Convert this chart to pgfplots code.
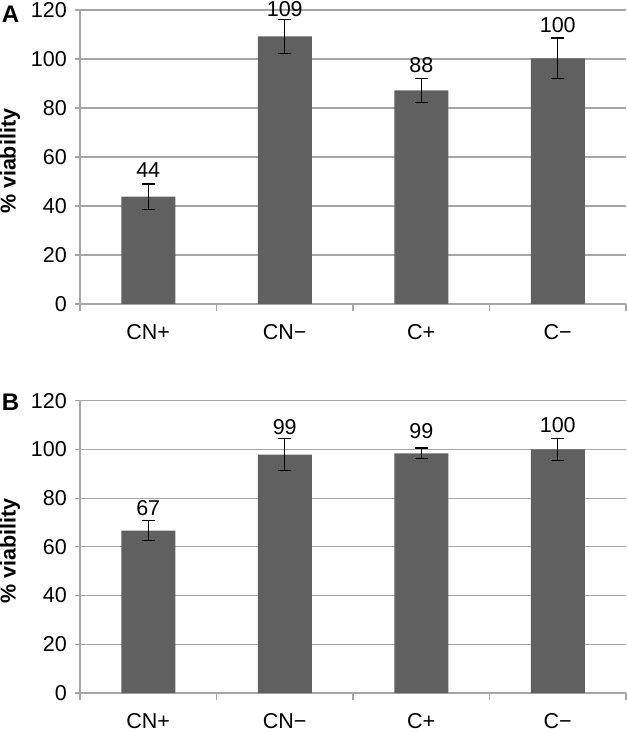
\documentclass[border=0pt]{standalone}
\usepackage{fontspec}
\setmainfont{Liberation Sans}
\usepackage{pgfplots}
\pgfplotsset{compat=1.18}
\definecolor{barc}{RGB}{96,96,96}
\definecolor{gridc}{RGB}{166,166,166}
\newcommand{\bigf}{\fontsize{21.5bp}{25bp}\selectfont}

\pgfplotsset{panel/.style={
  scale only axis, width=546bp,
  xmin=-0.5, xmax=3.5, ymin=0, ymax=120,
  ytick={0,20,...,120},
  xtick={0,1,2,3}, xticklabels={CN+,CN−,C+,C−},
  minor xtick={-0.5,0.5,1.5,2.5,3.5},
  major x tick style={draw=none},
  minor tick length=7bp, major tick length=5bp,
  tick align=outside,
  axis x line*=bottom, axis y line*=left,
  axis line style={gridc, line width=1.2bp, -},
  tick style={gridc, line width=1.2bp},
  ymajorgrids, grid style={gridc, line width=1.2bp},
  every tick label/.append style={font=\bigf},
  /pgf/number format/assume math mode=true,
  yticklabel style={anchor=east, inner sep=0pt, xshift=-8bp},
  xticklabel style={anchor=center, inner sep=0pt, yshift=-23bp},
  every axis y label/.style={at={(axis description cs:-0.128,0.485)}, rotate=90, anchor=center, font=\bigf\bfseries},
  ylabel={\% viability},
  clip=false,
}}
\pgfplotsset{bars/.style={ybar, bar width=54bp, fill=barc, draw=none,
  error bars/.cd, y dir=both, y explicit,
  error mark options={rotate=90, mark size=6.5bp, line width=1.2bp, black},
  error bar style={black, line width=1.2bp}}}
\pgfplotsset{labs/.style={only marks, mark=none, nodes near coords, point meta=explicit symbolic,
  nodes near coords style={anchor=south, inner sep=0pt, font=\bigf, black}}}

\pgfplotstableread{
x y e ly lab
0 43.8 5.2 51.4 44
1 109.2 6.9 117.1 109
2 87.2 5.0 94.4 88
3 100.3 8.3 110.5 100
}\dataA
\pgfplotstableread{
x y e ly lab
0 66.7 4.2 72.7 67
1 97.9 6.5 105.9 99
2 98.4 2.2 104.3 99
3 100.0 4.6 106.6 100
}\dataB

\begin{document}
\begin{tikzpicture}
\useasboundingbox (0,0) rectangle (627bp,733bp);
\begin{axis}[panel, at={(80bp,429bp)}, anchor=south west, height=294bp]
\addplot[bars] table[x=x, y=y, y error=e]{\dataA};
\addplot[labs] table[x=x, y=ly, meta=lab]{\dataA};
\end{axis}
\begin{axis}[panel, at={(80bp,40bp)}, anchor=south west, height=292.3bp]
\addplot[bars] table[x=x, y=y, y error=e]{\dataB};
\addplot[labs] table[x=x, y=ly, meta=lab]{\dataB};
\end{axis}
\node[font=\fontsize{24bp}{28bp}\selectfont\bfseries, inner sep=0pt] at (10.5bp,718.5bp) {A};
\node[font=\fontsize{24bp}{28bp}\selectfont\bfseries, inner sep=0pt] at (10.5bp,330.7bp) {B};
\end{tikzpicture}
\end{document}
